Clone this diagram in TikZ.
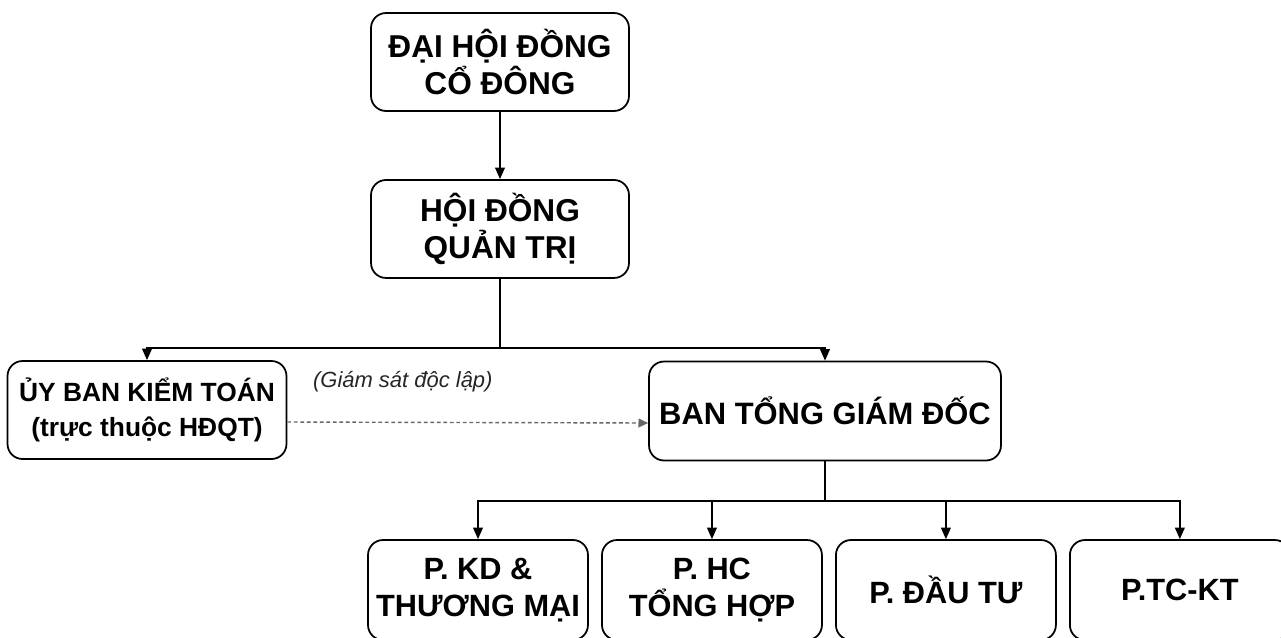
\documentclass[tikz,border=0pt]{standalone}
\usepackage{fontspec}
\setmainfont{Liberation Sans}
\usetikzlibrary{arrows.meta, positioning}

\begin{document}
\begin{tikzpicture}[x=0.02cm, y=-0.02cm, node distance=3.34cm and 4.68cm, on grid,
	unit/.style={rectangle, draw, line width=1pt, rounded corners=0.3cm, align=center, inner sep=0pt},
	board/.style={unit, minimum width=5.16cm, minimum height=1.96cm, font=\bfseries\fontsize{18}{21}\selectfont},
	dept/.style={unit, minimum width=4.4cm, minimum height=2cm, font=\bfseries\fontsize{17.5}{21}\selectfont},
	note/.style={font=\itshape\fontsize{12.5}{15}\selectfont, text=black!85},
	watch/.style={black!60, line width=0.8pt, dash pattern=on 2.2pt off 1.5pt, -{Triangle[length=5.5pt, width=5pt]}},
	->, >={Triangle[length=6.5pt, width=5.5pt]}, line width=0.9pt]

\path[use as bounding box, clip] (0,0) rectangle (1281,637);

% Nodes
\node[board] (DHDCD) at (500,62) {ĐẠI HỘI ĐỒNG\\CỔ ĐÔNG};
\node[board, below=of DHDCD] (HDQT) {HỘI ĐỒNG\\QUẢN TRỊ};

\node[unit, minimum width=5.58cm, minimum height=1.96cm, font=\bfseries\fontsize{15}{20}\selectfont] (UBKT) at (147,410) {ỦY BAN KIỂM TOÁN\\(trực thuộc HĐQT)};
\node[unit, minimum width=7.04cm, minimum height=1.98cm, font=\bfseries\fontsize{17.6}{21}\selectfont] (BTGD) at (825,411) {BAN TỔNG GIÁM ĐỐC};

\node[dept] (PKD) at (478,590) {P. KD \&\\THƯƠNG MẠI};
\node[dept, right=of PKD] (PHC) {P. HC\\TỔNG HỢP};
\node[dept, right=of PHC] (PDT) {P. ĐẦU TƯ};
\node[dept, right=of PDT] (PTC) {P.TC-KT};

\coordinate[below=2.38cm of HDQT] (fork1);
\coordinate[below=1.8cm of BTGD] (fork2);

% Connectors
\draw (DHDCD) -- (HDQT);
\draw[-] (HDQT) -- (fork1);
\draw (fork1) -| (UBKT);
\draw (fork1) -| (BTGD);
\draw[-] (BTGD) -- (fork2);
\foreach \d in {PKD, PHC, PDT, PTC}
	\draw (fork2) -| (\d);
\draw[watch] ([yshift=-0.24cm]UBKT.east) -- node[note, pos=0.32, above=0.82cm, anchor=center] {(Giám sát độc lập)} ([yshift=-0.24cm]BTGD.west);
\end{tikzpicture}
\end{document}
